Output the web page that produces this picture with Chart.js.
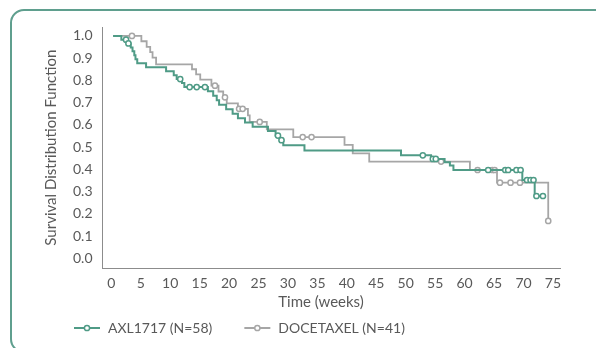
<!DOCTYPE html>
<html>
<head>
<meta charset="utf-8">
<script src="https://cdn.jsdelivr.net/npm/chart.js@4"></script>
<style>
  html, body { margin: 0; padding: 0; background: #fff; }
  body { width: 596px; height: 348px; overflow: hidden; position: relative; }
  .frame { position: absolute; left: 10px; top: 9px; width: 640px; height: 344px; box-sizing: border-box;
           border: 2px solid #5f9f8e; border-radius: 14px; }
  #km { position: absolute; left: 0; top: 0; }
</style>
</head>
<body>
<div class="frame"></div>
<canvas id="km" width="596" height="348"></canvas>
<script>
// AXL1717 arm (weeks, survival, 1 = censored mark)
const axlTime = [0.3, 1.7, 2.5, 2.7, 2.9, 3.3, 3.6, 3.9, 4.1, 4.4, 5.9, 9.3, 10.6, 11.1, 11.7, 12.0, 12.4,
  13.3, 14.5, 15.9, 16.4, 17.3, 17.9, 18.3, 19.5, 20.6, 21.5, 22.7, 24.0, 26.6, 27.9, 28.3, 28.6, 28.9,
  29.2, 32.8, 49.2, 52.9, 54.3, 54.6, 55.1, 56.6, 57.5, 58.1, 64.0, 66.9, 67.4, 68.8, 69.5, 69.8,
  70.6, 71.2, 71.7, 71.9, 72.2, 73.3]
const axlSurv = [1.0, 0.983, 0.983, 0.966, 0.966, 0.948, 0.931, 0.913, 0.895, 0.877, 0.859, 0.841, 0.823, 0.806, 0.806, 0.788, 0.770,
  0.770, 0.770, 0.770, 0.751, 0.731, 0.711, 0.690, 0.670, 0.650, 0.630, 0.611, 0.592, 0.572, 0.552, 0.552, 0.531, 0.531,
  0.508, 0.485, 0.463, 0.463, 0.447, 0.447, 0.447, 0.432, 0.417, 0.397, 0.397, 0.397, 0.397, 0.397, 0.397, 0.352,
  0.352, 0.352, 0.352, 0.280, 0.280, 0.280]
const axlCens = [0, 0, 1, 0, 1, 0, 0, 0, 0, 0, 0, 0, 0, 0, 1, 0, 0,
  1, 1, 1, 0, 0, 0, 0, 0, 0, 0, 0, 0, 0, 0, 1, 0, 1,
  0, 0, 0, 1, 0, 1, 1, 0, 0, 0, 1, 1, 1, 1, 1, 0,
  1, 1, 1, 0, 1, 1]

// Docetaxel arm
const docTime = [0.3, 3.5, 5.1, 6.0, 6.6, 7.0, 7.6, 13.7, 14.4, 15.1, 17.0, 17.6, 18.2, 19.0, 19.3, 19.6,
  21.5, 21.7, 22.3, 23.2, 23.5, 25.2, 26.4, 30.9, 32.5, 34.0, 39.6, 41.0, 43.8, 56.0, 60.9, 62.2,
  64.7, 65.1, 65.5, 66.0, 67.8, 69.4, 74.2]
const docSurv = [1.0, 1.0, 0.976, 0.951, 0.927, 0.902, 0.872, 0.850, 0.827, 0.803, 0.776, 0.776, 0.750, 0.724, 0.724, 0.697,
  0.672, 0.672, 0.672, 0.643, 0.613, 0.613, 0.580, 0.545, 0.545, 0.545, 0.510, 0.472, 0.435, 0.435, 0.397, 0.397,
  0.397, 0.397, 0.340, 0.340, 0.340, 0.340, 0.168]
const docCens = [0, 1, 0, 0, 0, 0, 0, 0, 0, 0, 0, 1, 0, 0, 1, 0,
  0, 1, 1, 0, 0, 1, 0, 0, 1, 1, 0, 0, 0, 1, 0, 1,
  1, 1, 0, 1, 1, 1, 1]

const xTicks = [0, 5, 10, 15, 20, 25, 30, 35, 40, 45, 50, 55, 60, 65, 70, 75]
const yTicks = [0.0, 0.1, 0.2, 0.3, 0.4, 0.5, 0.6, 0.7, 0.8, 0.9, 1.0]
const xTitle = 'Time (weeks)'

const green = '#4f9b86'
const grey = '#a6a6a6'
const textCol = '#595959'
const axisCol = '#8c8c8c'

Chart.defaults.font.family = 'Lato'
Chart.defaults.font.size = 14
Chart.defaults.color = textCol

function pts(t, s) { return t.map((v, i) => ({ x: v, y: s[i] })) }

// x title sits a bit left of the plot centre in the source, and the legend
// is a line + open circle, so both are drawn here
const kmExtras = {
  id: 'kmExtras',
  afterDraw(chart) {
    const ctx = chart.ctx
    ctx.save()
    ctx.fillStyle = textCol
    ctx.font = '15px Lato'
    ctx.textAlign = 'center'
    ctx.textBaseline = 'middle'
    ctx.fillText(xTitle, 321, 302)

    const y = 328
    let x = 74
    ctx.font = '14px Lato'
    ctx.textAlign = 'left'
    chart.data.datasets.forEach(ds => {
      ctx.strokeStyle = ds.borderColor
      ctx.lineWidth = 2
      ctx.beginPath(); ctx.moveTo(x, y); ctx.lineTo(x + 26, y); ctx.stroke()
      ctx.fillStyle = '#fff'
      ctx.lineWidth = 1.5
      ctx.beginPath(); ctx.arc(x + 13, y, 2.6, 0, Math.PI * 2); ctx.fill(); ctx.stroke()
      ctx.fillStyle = textCol
      ctx.fillText(ds.label, x + 34, y)
      x += 34 + ctx.measureText(ds.label).width + 32
    })
    ctx.restore()
  }
}

new Chart(document.getElementById('km'), {
  type: 'line',
  data: {
    datasets: [{
      label: 'AXL1717 (N=58)',
      data: pts(axlTime, axlSurv),
      borderColor: green,
      borderWidth: 2,
      stepped: true,
      fill: false,
      pointRadius: c => axlCens[c.dataIndex] ? 2.6 : 0,
      pointBackgroundColor: '#fff',
      pointBorderColor: green,
      pointBorderWidth: 1.5
    }, {
      label: 'DOCETAXEL (N=41)',
      data: pts(docTime, docSurv),
      borderColor: grey,
      borderWidth: 1.8,
      stepped: true,
      fill: false,
      pointRadius: c => docCens[c.dataIndex] ? 2.6 : 0,
      pointBackgroundColor: '#fff',
      pointBorderColor: grey,
      pointBorderWidth: 1.5
    }]
  },
  options: {
    responsive: false,
    animation: false,
    layout: { padding: { top: 27, right: 35.4, bottom: 37.6, left: 0 } },
    plugins: { legend: { display: false }, tooltip: { enabled: false } },
    scales: {
      x: {
        type: 'linear', min: -1.5, max: 76.3,
        grid: { display: false, drawTicks: false },
        border: { display: true, color: axisCol, width: 1 },
        afterBuildTicks: s => { s.ticks = xTicks.map(v => ({ value: v })) },
        ticks: { padding: 7, maxRotation: 0, autoSkip: false, callback: v => String(v) },
        afterFit: s => { s.height = 42.1 }
      },
      y: {
        type: 'linear', min: -0.045, max: 1.04,
        grid: { display: false, drawTicks: false },
        border: { display: true, color: axisCol, width: 1 },
        afterBuildTicks: s => { s.ticks = yTicks.map(v => ({ value: v })) },
        ticks: { padding: 10, callback: v => v.toFixed(1) },
        title: { display: true, text: 'Survival Distribution Function', font: { size: 15 }, padding: { top: 42.5, bottom: 0 } },
        afterFit: s => { s.width = 102.5 }
      }
    }
  },
  plugins: [kmExtras]
})
</script>
</body>
</html>
